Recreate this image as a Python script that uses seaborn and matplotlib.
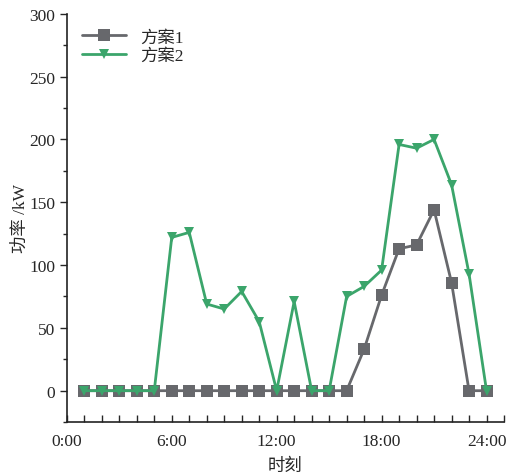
import numpy as np
import pandas as pd
import seaborn as sns
import matplotlib.pyplot as plt
from matplotlib.ticker import MultipleLocator

hours = list(range(1, 25))
plan1 = [0, 0, 0, 0, 0, 0, 0, 0, 0, 0, 0, 0, 0, 0, 0, 0,
         33, 76, 113, 116, 144, 86, 0, 0]
plan2 = [0, 0, 0, 0, 0, 122, 126, 69, 65, 79, 55, 0, 71, 0, 0, 75,
         83, 96, 196, 193, 200, 164, 93, 0]
xticklabels = ['0:00', '6:00', '12:00', '18:00', '24:00']

sns.set_style('ticks')
plt.rcParams['font.family'] = ['Liberation Serif', 'Noto Sans CJK SC']
plt.rcParams['axes.unicode_minus'] = False

df = pd.DataFrame({'hour': hours, '方案1': plan1, '方案2': plan2})

fig = plt.figure(figsize=(5.18, 4.77), dpi=100)
ax = fig.add_axes([0.129, 0.113, 0.844, 0.856])

sns.lineplot(data=df, x='hour', y='方案1', ax=ax, color='#67686c', lw=2,
             marker='s', markersize=9, markeredgewidth=0, label='方案1')
sns.lineplot(data=df, x='hour', y='方案2', ax=ax, color='#3ba56b', lw=2,
             marker='v', markersize=7.5, markeredgewidth=0, label='方案2')

ax.set_xlim(0, 25)
ax.set_ylim(-25, 300)
ax.xaxis.set_major_locator(MultipleLocator(6))
ax.xaxis.set_minor_locator(MultipleLocator(1))
ax.set_xticks([0, 6, 12, 18, 24])
ax.set_xticklabels(xticklabels)
ax.yaxis.set_major_locator(MultipleLocator(50))
ax.yaxis.set_minor_locator(MultipleLocator(25))
ax.tick_params(axis='x', which='both', direction='in', length=5, width=1, labelsize=12.5, pad=8)
ax.tick_params(axis='y', which='major', direction='out', length=5, width=1, labelsize=12.5)
ax.tick_params(axis='y', which='minor', direction='out', length=3, width=1)
sns.despine(ax=ax)
for s in ['left', 'bottom']:
    ax.spines[s].set_color('#222222')
    ax.spines[s].set_linewidth(1.2)

ax.set_xlabel('时刻', fontsize=12.5, labelpad=6)
ax.set_ylabel('功率 /kW', fontsize=12.5, labelpad=0)
ax.legend(loc='upper left', frameon=False, fontsize=12.5, handlelength=2.5,
          borderaxespad=0.5, labelspacing=0.15)

fig.savefig('out.png', dpi=100)
